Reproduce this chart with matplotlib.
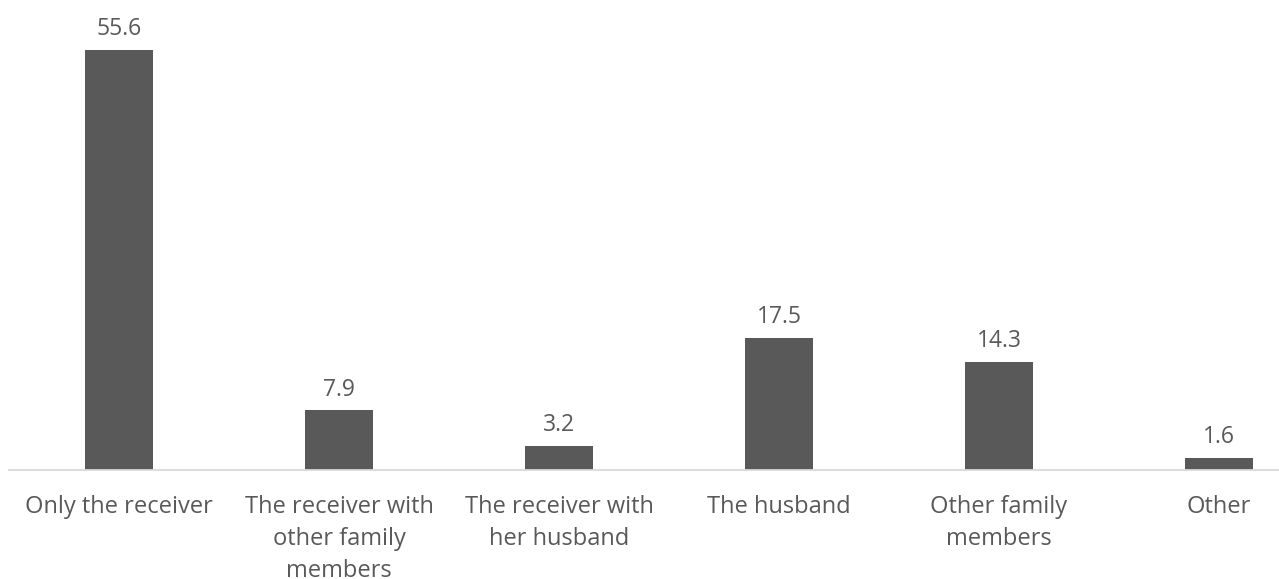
import matplotlib.pyplot as plt

CATEGORIES = [
    "Only the receiver",
    "The receiver with\nother family\nmembers",
    "The receiver with\nher husband",
    "The husband",
    "Other family\nmembers",
    "Other",
]
VALUES = [55.6, 7.9, 3.2, 17.5, 14.3, 1.6]

BAR_COLOR = "#595959"
TEXT_COLOR = "#595959"
AXIS_COLOR = "#d9d9d9"

plt.rcParams["font.family"] = ["Open Sans", "DejaVu Sans"]

W, H = 1279, 579
fig = plt.figure(figsize=(W / 100, H / 100), dpi=100)
fig.patch.set_facecolor("white")
# category slot is 220 px wide; last slot runs past the right edge
ax = fig.add_axes([9 / W, 109 / H, 1320 / W, 453 / H])

x = list(range(len(CATEGORIES)))
bars = ax.bar(x, VALUES, width=0.31, color=BAR_COLOR, zorder=2)

for xi, v in zip(x, VALUES):
    ax.annotate(
        f"{v:.1f}", xy=(xi, v), xytext=(0, 15), textcoords="offset points",
        ha="center", va="center", color=TEXT_COLOR, fontsize=16.5,
    )

ax.set_xlim(-0.5, len(CATEGORIES) - 0.5)
ax.set_ylim(0, 60)
ax.set_xticks(x)
ax.set_xticklabels(CATEGORIES, color=TEXT_COLOR, fontsize=17, linespacing=1.45)
ax.tick_params(axis="x", length=0, pad=18)
ax.set_yticks([])

for spine in ("top", "right", "left"):
    ax.spines[spine].set_visible(False)
ax.spines["bottom"].set_color(AXIS_COLOR)
ax.spines["bottom"].set_linewidth(1.3)

fig.savefig("out.png", dpi=100, facecolor="white")
